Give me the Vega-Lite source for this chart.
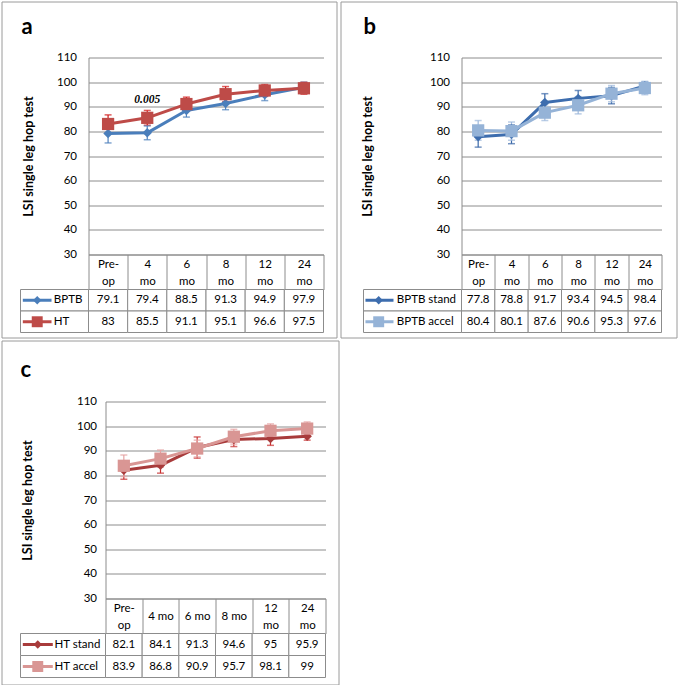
{
  "$schema": "https://vega.github.io/schema/vega-lite/v6.json",
  "background": "white",
  "padding": {"left": 0.5, "top": 0.5, "right": 0, "bottom": 0},
  "config": {
    "view": {"stroke": null},
    "font": "Lato",
    "legend": {"disable": true},
    "axis": {"labelFont": "Lato", "titleFont": "Lato", "labelColor": "#000000", "titleColor": "#000000"}
  },
  "datasets": {
    "a": [
      {"t": "Pre-op", "s": "BPTB", "v": 79.1, "lo": 75.3, "hi": 82.9},
      {"t": "4 mo", "s": "BPTB", "v": 79.4, "lo": 76.6, "hi": 82.2},
      {"t": "6 mo", "s": "BPTB", "v": 88.5, "lo": 85.8, "hi": 91.2},
      {"t": "8 mo", "s": "BPTB", "v": 91.3, "lo": 88.8, "hi": 93.8},
      {"t": "12 mo", "s": "BPTB", "v": 94.9, "lo": 92.5, "hi": 97.3},
      {"t": "24 mo", "s": "BPTB", "v": 97.9, "lo": 95.8, "hi": 100.0},
      {"t": "Pre-op", "s": "HT", "v": 83, "lo": 79.3, "hi": 86.7},
      {"t": "4 mo", "s": "HT", "v": 85.5, "lo": 82.5, "hi": 88.5},
      {"t": "6 mo", "s": "HT", "v": 91.1, "lo": 88.3, "hi": 93.9},
      {"t": "8 mo", "s": "HT", "v": 95.1, "lo": 92.0, "hi": 98.2},
      {"t": "12 mo", "s": "HT", "v": 96.6, "lo": 94.2, "hi": 99.0},
      {"t": "24 mo", "s": "HT", "v": 97.5, "lo": 95.1, "hi": 99.9}
    ],
    "b": [
      {"t": "Pre-op", "s": "BPTB stand", "v": 77.8, "lo": 73.6, "hi": 82.0},
      {"t": "4 mo", "s": "BPTB stand", "v": 78.8, "lo": 75.0, "hi": 82.6},
      {"t": "6 mo", "s": "BPTB stand", "v": 91.7, "lo": 88.1, "hi": 95.3},
      {"t": "8 mo", "s": "BPTB stand", "v": 93.4, "lo": 90.2, "hi": 96.6},
      {"t": "12 mo", "s": "BPTB stand", "v": 94.5, "lo": 91.2, "hi": 97.8},
      {"t": "24 mo", "s": "BPTB stand", "v": 98.4, "lo": 96.8, "hi": 100.0},
      {"t": "Pre-op", "s": "BPTB accel", "v": 80.4, "lo": 76.4, "hi": 84.4},
      {"t": "4 mo", "s": "BPTB accel", "v": 80.1, "lo": 76.4, "hi": 83.8},
      {"t": "6 mo", "s": "BPTB accel", "v": 87.6, "lo": 84.4, "hi": 90.8},
      {"t": "8 mo", "s": "BPTB accel", "v": 90.6, "lo": 87.1, "hi": 94.1},
      {"t": "12 mo", "s": "BPTB accel", "v": 95.3, "lo": 92.0, "hi": 98.6},
      {"t": "24 mo", "s": "BPTB accel", "v": 97.6, "lo": 94.9, "hi": 100.3}
    ],
    "c": [
      {"t": "Pre-op", "s": "HT stand", "v": 82.1, "lo": 78.4, "hi": 85.8},
      {"t": "4 mo", "s": "HT stand", "v": 84.1, "lo": 80.9, "hi": 87.3},
      {"t": "6 mo", "s": "HT stand", "v": 91.3, "lo": 87.0, "hi": 95.6},
      {"t": "8 mo", "s": "HT stand", "v": 94.6, "lo": 91.7, "hi": 97.5},
      {"t": "12 mo", "s": "HT stand", "v": 95, "lo": 92.2, "hi": 97.8},
      {"t": "24 mo", "s": "HT stand", "v": 95.9, "lo": 94.3, "hi": 97.5},
      {"t": "Pre-op", "s": "HT accel", "v": 83.9, "lo": 79.5, "hi": 88.3},
      {"t": "4 mo", "s": "HT accel", "v": 86.8, "lo": 83.3, "hi": 90.3},
      {"t": "6 mo", "s": "HT accel", "v": 90.9, "lo": 87.5, "hi": 94.3},
      {"t": "8 mo", "s": "HT accel", "v": 95.7, "lo": 92.7, "hi": 98.7},
      {"t": "12 mo", "s": "HT accel", "v": 98.1, "lo": 95.3, "hi": 100.9},
      {"t": "24 mo", "s": "HT accel", "v": 99, "lo": 96.3, "hi": 101.7}
    ],
    "ann": [{"t": "4 mo", "y": 92.8, "label": "0.005"}]
  },
  "spacing": 1,
  "resolve": {"scale": {"color": "independent", "stroke": "independent", "fill": "independent", "shape": "independent", "size": "independent"}},
  "vconcat": [
    {
      "spacing": -323,
      "align": "none",
      "resolve": {"scale": {"color": "independent", "stroke": "independent", "fill": "independent", "shape": "independent", "size": "independent"}},
      "vconcat": [
        {
          "spacing": 2,
          "hconcat": [
            {"width": 335, "height": 336, "view": {"stroke": "#9a9a9a", "strokeWidth": 1}, "data": {"values": []}, "mark": "point"},
            {"width": 336, "height": 336, "view": {"stroke": "#9a9a9a", "strokeWidth": 1}, "data": {"values": []}, "mark": "point"}
          ]
        },
        {
          "spacing": 20,
          "resolve": {"scale": {"color": "independent", "stroke": "independent", "fill": "independent", "shape": "independent", "size": "independent"}},
          "hconcat": [
            {
              "columns": 3,
              "spacing": {"row": 35, "column": 0},
              "bounds": "flush",
              "align": "each",
              "resolve": {"scale": {"color": "independent", "stroke": "independent", "fill": "independent", "shape": "independent", "size": "independent"}},
              "concat": [
                {"width": 19, "height": 0, "data": {"values": []}, "mark": "point"},
                {"width": 68, "height": 0, "data": {"values": []}, "mark": "point"},
                {
                  "width": 235, "height": 197,
                  "title": {"text": "a", "anchor": "start", "frame": "group", "dx": -67, "offset": -4, "fontSize": 22, "fontWeight": "bold", "font": "Lato", "baseline": "alphabetic", "color": "#000000"},
                  "data": {"name": "a"},
                  "encoding": {
                    "x": {"field": "t", "type": "nominal", "sort": null, "bandPosition": 0.5,
                      "scale": {"type": "band", "domain": ["Pre-op", "4 mo", "6 mo", "8 mo", "12 mo", "24 mo"], "paddingInner": 0, "paddingOuter": 0},
                      "axis": {"title": null, "labelAngle": 0, "tickBand": "extent", "tickSize": 35, "tickColor": "#8c8c8c", "domainColor": "#8c8c8c", "labelPadding": -25, "labelBaseline": "middle", "labelLineHeight": 17, "labelFontSize": 11.5, "labelOverlap": false,
                        "labelExpr": "datum.label == 'Pre-op' ? ['Pre-', 'op'] : split(datum.label, ' ')"}}
                  },
                  "layer": [
                    {"mark": {"type": "rule", "strokeWidth": 1.2},
                      "encoding": {
                        "y": {"field": "lo", "type": "quantitative", "title": "LSI single leg hop test", "scale": {"domain": [30, 110], "nice": false, "zero": false},
                          "axis": {"values": [30, 40, 50, 60, 70, 80, 90, 100, 110], "tickCount": 9, "labelOverlap": false, "grid": true, "gridColor": "#8c8c8c", "domainColor": "#8c8c8c", "ticks": false, "labelPadding": 12, "labelFontSize": 11.5, "titleFontSize": 12.5, "titleFontWeight": "bold", "titleX": -60, "titleBaseline": "middle"}},
                        "y2": {"field": "hi"},
                        "stroke": {"field": "s", "type": "nominal", "scale": {"domain": ["BPTB", "HT"], "range": ["#4F81BD", "#D01818"]}, "legend": null}}},
                    {"mark": {"type": "tick", "size": 7, "thickness": 1.5},
                      "encoding": {"y": {"field": "lo", "type": "quantitative", "title": "LSI single leg hop test"},
                        "fill": {"field": "s", "type": "nominal", "scale": {"domain": ["BPTB", "HT"], "range": ["#4F81BD", "#D01818"]}, "legend": null}}},
                    {"mark": {"type": "tick", "size": 7, "thickness": 1.5},
                      "encoding": {"y": {"field": "hi", "type": "quantitative", "title": "LSI single leg hop test"},
                        "fill": {"field": "s", "type": "nominal", "legend": null}}},
                    {"mark": {"type": "line", "strokeWidth": 3, "strokeJoin": "round"},
                      "encoding": {"y": {"field": "v", "type": "quantitative", "title": "LSI single leg hop test"},
                        "color": {"field": "s", "type": "nominal", "scale": {"domain": ["BPTB", "HT"], "range": ["#4A7EBB", "#BE4B48"]}, "legend": null}}},
                    {"mark": {"type": "point", "filled": true, "opacity": 1},
                      "encoding": {"y": {"field": "v", "type": "quantitative", "title": "LSI single leg hop test"},
                        "color": {"field": "s", "type": "nominal", "legend": null},
                        "shape": {"field": "s", "type": "nominal", "scale": {"domain": ["BPTB", "HT"], "range": ["diamond", "square"]}, "legend": null},
                        "size": {"field": "s", "type": "ordinal", "scale": {"domain": ["BPTB", "HT"], "range": [90, 150]}, "legend": null}}},
                    {"data": {"name": "ann"},
                      "mark": {"type": "text", "font": "Liberation Serif", "fontStyle": "italic", "fontWeight": "bold", "fontSize": 11.5, "color": "#000000"},
                      "encoding": {"y": {"field": "y", "type": "quantitative", "title": "LSI single leg hop test"}, "text": {"field": "label"}}}
                  ]
                },
                {"width": 19, "height": 0, "data": {"values": []}, "mark": "point"},
                {
                  "width": 68, "height": 43,
                  "data": {"name": "a"},
                  "transform": [{"filter": "datum.t == 'Pre-op'"}],
                  "layer": [
                    {"mark": {"type": "rect", "fill": "white", "stroke": "#8c8c8c", "strokeWidth": 1},
                      "encoding": {"x": {"datum": 0, "type": "quantitative", "scale": {"domain": [0, 1], "nice": false, "zero": false}, "axis": null}, "x2": {"datum": 1},
                        "y": {"field": "s", "type": "nominal", "sort": null, "scale": {"domain": ["BPTB", "HT"], "paddingInner": 0, "paddingOuter": 0}, "axis": null}}},
                    {"mark": {"type": "rule", "strokeWidth": 3},
                      "encoding": {"x": {"datum": 0.034, "type": "quantitative"}, "x2": {"datum": 0.456},
                        "y": {"field": "s", "type": "nominal", "bandPosition": 0.5},
                        "color": {"field": "s", "type": "nominal", "scale": {"domain": ["BPTB", "HT"], "range": ["#4A7EBB", "#BE4B48"]}, "legend": null}}},
                    {"mark": {"type": "point", "filled": true, "opacity": 1},
                      "encoding": {"x": {"datum": 0.246, "type": "quantitative"},
                        "y": {"field": "s", "type": "nominal", "bandPosition": 0.5},
                        "color": {"field": "s", "type": "nominal", "legend": null},
                        "shape": {"field": "s", "type": "nominal", "scale": {"domain": ["BPTB", "HT"], "range": ["diamond", "square"]}, "legend": null},
                        "size": {"field": "s", "type": "ordinal", "scale": {"domain": ["BPTB", "HT"], "range": [70, 120]}, "legend": null}}},
                    {"mark": {"type": "text", "align": "left", "fontSize": 11.5, "color": "#000000"},
                      "encoding": {"x": {"datum": 0.49, "type": "quantitative"},
                        "y": {"field": "s", "type": "nominal", "bandPosition": 0.5},
                        "text": {"field": "s", "type": "nominal"}}}
                  ]
                },
                {
                  "width": 235, "height": 43,
                  "data": {"name": "a"},
                  "encoding": {
                    "x": {"field": "t", "type": "nominal", "sort": null, "scale": {"type": "band", "domain": ["Pre-op", "4 mo", "6 mo", "8 mo", "12 mo", "24 mo"], "paddingInner": 0, "paddingOuter": 0}, "axis": null},
                    "y": {"field": "s", "type": "nominal", "sort": null, "scale": {"type": "band", "domain": ["BPTB", "HT"], "paddingInner": 0, "paddingOuter": 0}, "axis": null}
                  },
                  "layer": [
                    {"mark": {"type": "rect", "fill": "white", "stroke": "#8c8c8c", "strokeWidth": 1}},
                    {"mark": {"type": "text", "fontSize": 11.5, "color": "#000000"},
                      "encoding": {"x": {"field": "t", "type": "nominal", "bandPosition": 0.5}, "y": {"field": "s", "type": "nominal", "bandPosition": 0.5}, "text": {"field": "v", "type": "nominal"}}}
                  ]
                }
              ]
            },
            {
              "columns": 3,
              "spacing": {"row": 35, "column": 0},
              "bounds": "flush",
              "align": "each",
              "resolve": {"scale": {"color": "independent", "stroke": "independent", "fill": "independent", "shape": "independent", "size": "independent"}},
              "concat": [
                {"width": 19, "height": 0, "data": {"values": []}, "mark": "point"},
                {"width": 98, "height": 0, "data": {"values": []}, "mark": "point"},
                {
                  "width": 200, "height": 197,
                  "title": {"text": "b", "anchor": "start", "frame": "group", "dx": -98, "offset": -4, "fontSize": 22, "fontWeight": "bold", "font": "Lato", "baseline": "alphabetic", "color": "#000000"},
                  "data": {"name": "b"},
                  "encoding": {
                    "x": {"field": "t", "type": "nominal", "sort": null, "bandPosition": 0.5,
                      "scale": {"type": "band", "domain": ["Pre-op", "4 mo", "6 mo", "8 mo", "12 mo", "24 mo"], "paddingInner": 0, "paddingOuter": 0},
                      "axis": {"title": null, "labelAngle": 0, "tickBand": "extent", "tickSize": 35, "tickColor": "#8c8c8c", "domainColor": "#8c8c8c", "labelPadding": -25, "labelBaseline": "middle", "labelLineHeight": 17, "labelFontSize": 11.5, "labelOverlap": false,
                        "labelExpr": "datum.label == 'Pre-op' ? ['Pre-', 'op'] : split(datum.label, ' ')"}}
                  },
                  "layer": [
                    {"mark": {"type": "rule", "strokeWidth": 1.2},
                      "encoding": {
                        "y": {"field": "lo", "type": "quantitative", "title": "LSI single leg hop test", "scale": {"domain": [30, 110], "nice": false, "zero": false},
                          "axis": {"values": [30, 40, 50, 60, 70, 80, 90, 100, 110], "tickCount": 9, "labelOverlap": false, "grid": true, "gridColor": "#8c8c8c", "domainColor": "#8c8c8c", "ticks": false, "labelPadding": 12, "labelFontSize": 11.5, "titleFontSize": 12.5, "titleFontWeight": "bold", "titleX": -94, "titleBaseline": "middle"}},
                        "y2": {"field": "hi"},
                        "stroke": {"field": "s", "type": "nominal", "scale": {"domain": ["BPTB stand", "BPTB accel"], "range": ["#3A68A8", "#9DB8DC"]}, "legend": null}}},
                    {"mark": {"type": "tick", "size": 7, "thickness": 1.5},
                      "encoding": {"y": {"field": "lo", "type": "quantitative", "title": "LSI single leg hop test"},
                        "fill": {"field": "s", "type": "nominal", "scale": {"domain": ["BPTB stand", "BPTB accel"], "range": ["#3A68A8", "#9DB8DC"]}, "legend": null}}},
                    {"mark": {"type": "tick", "size": 7, "thickness": 1.5},
                      "encoding": {"y": {"field": "hi", "type": "quantitative", "title": "LSI single leg hop test"},
                        "fill": {"field": "s", "type": "nominal", "legend": null}}},
                    {"mark": {"type": "line", "strokeWidth": 3, "strokeJoin": "round"},
                      "encoding": {"y": {"field": "v", "type": "quantitative", "title": "LSI single leg hop test"},
                        "color": {"field": "s", "type": "nominal", "scale": {"domain": ["BPTB stand", "BPTB accel"], "range": ["#3D6DAE", "#95B3D7"]}, "legend": null}}},
                    {"mark": {"type": "point", "filled": true, "opacity": 1},
                      "encoding": {"y": {"field": "v", "type": "quantitative", "title": "LSI single leg hop test"},
                        "color": {"field": "s", "type": "nominal", "legend": null},
                        "shape": {"field": "s", "type": "nominal", "scale": {"domain": ["BPTB stand", "BPTB accel"], "range": ["diamond", "square"]}, "legend": null},
                        "size": {"field": "s", "type": "ordinal", "scale": {"domain": ["BPTB stand", "BPTB accel"], "range": [90, 150]}, "legend": null}}}
                  ]
                },
                {"width": 19, "height": 0, "data": {"values": []}, "mark": "point"},
                {
                  "width": 98, "height": 43,
                  "data": {"name": "b"},
                  "transform": [{"filter": "datum.t == 'Pre-op'"}],
                  "layer": [
                    {"mark": {"type": "rect", "fill": "white", "stroke": "#8c8c8c", "strokeWidth": 1},
                      "encoding": {"x": {"datum": 0, "type": "quantitative", "scale": {"domain": [0, 1], "nice": false, "zero": false}, "axis": null}, "x2": {"datum": 1},
                        "y": {"field": "s", "type": "nominal", "sort": null, "scale": {"domain": ["BPTB stand", "BPTB accel"], "paddingInner": 0, "paddingOuter": 0}, "axis": null}}},
                    {"mark": {"type": "rule", "strokeWidth": 3},
                      "encoding": {"x": {"datum": 0.02, "type": "quantitative"}, "x2": {"datum": 0.306},
                        "y": {"field": "s", "type": "nominal", "bandPosition": 0.5},
                        "color": {"field": "s", "type": "nominal", "scale": {"domain": ["BPTB stand", "BPTB accel"], "range": ["#3D6DAE", "#95B3D7"]}, "legend": null}}},
                    {"mark": {"type": "point", "filled": true, "opacity": 1},
                      "encoding": {"x": {"datum": 0.155, "type": "quantitative"},
                        "y": {"field": "s", "type": "nominal", "bandPosition": 0.5},
                        "color": {"field": "s", "type": "nominal", "legend": null},
                        "shape": {"field": "s", "type": "nominal", "scale": {"domain": ["BPTB stand", "BPTB accel"], "range": ["diamond", "square"]}, "legend": null},
                        "size": {"field": "s", "type": "ordinal", "scale": {"domain": ["BPTB stand", "BPTB accel"], "range": [70, 120]}, "legend": null}}},
                    {"mark": {"type": "text", "align": "left", "fontSize": 11.5, "color": "#000000"},
                      "encoding": {"x": {"datum": 0.34, "type": "quantitative"},
                        "y": {"field": "s", "type": "nominal", "bandPosition": 0.5},
                        "text": {"field": "s", "type": "nominal"}}}
                  ]
                },
                {
                  "width": 200, "height": 43,
                  "data": {"name": "b"},
                  "encoding": {
                    "x": {"field": "t", "type": "nominal", "sort": null, "scale": {"type": "band", "domain": ["Pre-op", "4 mo", "6 mo", "8 mo", "12 mo", "24 mo"], "paddingInner": 0, "paddingOuter": 0}, "axis": null},
                    "y": {"field": "s", "type": "nominal", "sort": null, "scale": {"type": "band", "domain": ["BPTB stand", "BPTB accel"], "paddingInner": 0, "paddingOuter": 0}, "axis": null}
                  },
                  "layer": [
                    {"mark": {"type": "rect", "fill": "white", "stroke": "#8c8c8c", "strokeWidth": 1}},
                    {"mark": {"type": "text", "fontSize": 11.5, "color": "#000000"},
                      "encoding": {"x": {"field": "t", "type": "nominal", "bandPosition": 0.5}, "y": {"field": "s", "type": "nominal", "bandPosition": 0.5}, "text": {"field": "v", "type": "nominal"}}}
                  ]
                }
              ]
            }
          ]
        }
      ]
    },
    {
      "spacing": -327,
      "align": "none",
      "resolve": {"scale": {"color": "independent", "stroke": "independent", "fill": "independent", "shape": "independent", "size": "independent"}},
      "vconcat": [
        {"width": 337, "height": 344, "view": {"stroke": "#9a9a9a", "strokeWidth": 1}, "data": {"values": []}, "mark": "point"},
        {
          "columns": 3,
          "spacing": {"row": 35, "column": 0},
          "bounds": "flush",
          "align": "each",
          "resolve": {"scale": {"color": "independent", "stroke": "independent", "fill": "independent", "shape": "independent", "size": "independent"}},
          "concat": [
            {"width": 19, "height": 0, "data": {"values": []}, "mark": "point"},
            {"width": 85, "height": 0, "data": {"values": []}, "mark": "point"},
            {
              "width": 220, "height": 197,
              "title": {"text": "c", "anchor": "start", "frame": "group", "dx": -85, "offset": -3, "fontSize": 22, "fontWeight": "bold", "font": "Lato", "baseline": "alphabetic", "color": "#000000"},
              "data": {"name": "c"},
              "encoding": {
                "x": {"field": "t", "type": "nominal", "sort": null, "bandPosition": 0.5,
                  "scale": {"type": "band", "domain": ["Pre-op", "4 mo", "6 mo", "8 mo", "12 mo", "24 mo"], "paddingInner": 0, "paddingOuter": 0},
                  "axis": {"title": null, "labelAngle": 0, "tickBand": "extent", "tickSize": 35, "tickColor": "#8c8c8c", "domainColor": "#8c8c8c",
                    "labelPadding": {"condition": {"test": "datum.label == '4 mo' || datum.label == '6 mo' || datum.label == '8 mo'", "value": -17.5}, "value": -25},
                    "labelBaseline": "middle", "labelLineHeight": 17, "labelFontSize": 11.5, "labelOverlap": false,
                    "labelExpr": "datum.label == 'Pre-op' ? ['Pre-', 'op'] : (datum.label == '12 mo' || datum.label == '24 mo') ? split(datum.label, ' ') : datum.label"}}
              },
              "layer": [
                {"mark": {"type": "rule", "strokeWidth": 1.2},
                  "encoding": {
                    "y": {"field": "lo", "type": "quantitative", "title": "LSI single leg hop test", "scale": {"domain": [30, 110], "nice": false, "zero": false},
                      "axis": {"values": [30, 40, 50, 60, 70, 80, 90, 100, 110], "tickCount": 9, "labelOverlap": false, "grid": true, "gridColor": "#8c8c8c", "domainColor": "#8c8c8c", "ticks": false, "labelPadding": 9, "labelFontSize": 11.5, "titleFontSize": 12.5, "titleFontWeight": "bold", "titleX": -78, "titleBaseline": "middle"}},
                    "y2": {"field": "hi"},
                    "stroke": {"field": "s", "type": "nominal", "scale": {"domain": ["HT stand", "HT accel"], "range": ["#C83030", "#E6A3A3"]}, "legend": null}}},
                {"mark": {"type": "tick", "size": 7, "thickness": 1.5},
                  "encoding": {"y": {"field": "lo", "type": "quantitative", "title": "LSI single leg hop test"},
                    "fill": {"field": "s", "type": "nominal", "scale": {"domain": ["HT stand", "HT accel"], "range": ["#C83030", "#E6A3A3"]}, "legend": null}}},
                {"mark": {"type": "tick", "size": 7, "thickness": 1.5},
                  "encoding": {"y": {"field": "hi", "type": "quantitative", "title": "LSI single leg hop test"},
                    "fill": {"field": "s", "type": "nominal", "legend": null}}},
                {"mark": {"type": "line", "strokeWidth": 3, "strokeJoin": "round"},
                  "encoding": {"y": {"field": "v", "type": "quantitative", "title": "LSI single leg hop test"},
                    "color": {"field": "s", "type": "nominal", "scale": {"domain": ["HT stand", "HT accel"], "range": ["#A83B3B", "#D99694"]}, "legend": null}}},
                {"mark": {"type": "point", "filled": true, "opacity": 1},
                  "encoding": {"y": {"field": "v", "type": "quantitative", "title": "LSI single leg hop test"},
                    "color": {"field": "s", "type": "nominal", "legend": null},
                    "shape": {"field": "s", "type": "nominal", "scale": {"domain": ["HT stand", "HT accel"], "range": ["diamond", "square"]}, "legend": null},
                    "size": {"field": "s", "type": "ordinal", "scale": {"domain": ["HT stand", "HT accel"], "range": [90, 150]}, "legend": null}}}
              ]
            },
            {"width": 19, "height": 0, "data": {"values": []}, "mark": "point"},
            {
              "width": 85, "height": 44,
              "data": {"name": "c"},
              "transform": [{"filter": "datum.t == 'Pre-op'"}],
              "layer": [
                {"mark": {"type": "rect", "fill": "white", "stroke": "#8c8c8c", "strokeWidth": 1},
                  "encoding": {"x": {"datum": 0, "type": "quantitative", "scale": {"domain": [0, 1], "nice": false, "zero": false}, "axis": null}, "x2": {"datum": 1},
                    "y": {"field": "s", "type": "nominal", "sort": null, "scale": {"domain": ["HT stand", "HT accel"], "paddingInner": 0, "paddingOuter": 0}, "axis": null}}},
                {"mark": {"type": "rule", "strokeWidth": 3},
                  "encoding": {"x": {"datum": 0.027, "type": "quantitative"}, "x2": {"datum": 0.38},
                    "y": {"field": "s", "type": "nominal", "bandPosition": 0.5},
                    "color": {"field": "s", "type": "nominal", "scale": {"domain": ["HT stand", "HT accel"], "range": ["#A83B3B", "#D99694"]}, "legend": null}}},
                {"mark": {"type": "point", "filled": true, "opacity": 1},
                  "encoding": {"x": {"datum": 0.203, "type": "quantitative"},
                    "y": {"field": "s", "type": "nominal", "bandPosition": 0.5},
                    "color": {"field": "s", "type": "nominal", "legend": null},
                    "shape": {"field": "s", "type": "nominal", "scale": {"domain": ["HT stand", "HT accel"], "range": ["diamond", "square"]}, "legend": null},
                    "size": {"field": "s", "type": "ordinal", "scale": {"domain": ["HT stand", "HT accel"], "range": [70, 120]}, "legend": null}}},
                {"mark": {"type": "text", "align": "left", "fontSize": 11.5, "color": "#000000"},
                  "encoding": {"x": {"datum": 0.4, "type": "quantitative"},
                    "y": {"field": "s", "type": "nominal", "bandPosition": 0.5},
                    "text": {"field": "s", "type": "nominal"}}}
              ]
            },
            {
              "width": 220, "height": 44,
              "data": {"name": "c"},
              "encoding": {
                "x": {"field": "t", "type": "nominal", "sort": null, "scale": {"type": "band", "domain": ["Pre-op", "4 mo", "6 mo", "8 mo", "12 mo", "24 mo"], "paddingInner": 0, "paddingOuter": 0}, "axis": null},
                "y": {"field": "s", "type": "nominal", "sort": null, "scale": {"type": "band", "domain": ["HT stand", "HT accel"], "paddingInner": 0, "paddingOuter": 0}, "axis": null}
              },
              "layer": [
                {"mark": {"type": "rect", "fill": "white", "stroke": "#8c8c8c", "strokeWidth": 1}},
                {"mark": {"type": "text", "fontSize": 11.5, "color": "#000000"},
                  "encoding": {"x": {"field": "t", "type": "nominal", "bandPosition": 0.5}, "y": {"field": "s", "type": "nominal", "bandPosition": 0.5}, "text": {"field": "v", "type": "nominal"}}}
              ]
            }
          ]
        }
      ]
    }
  ]
}
